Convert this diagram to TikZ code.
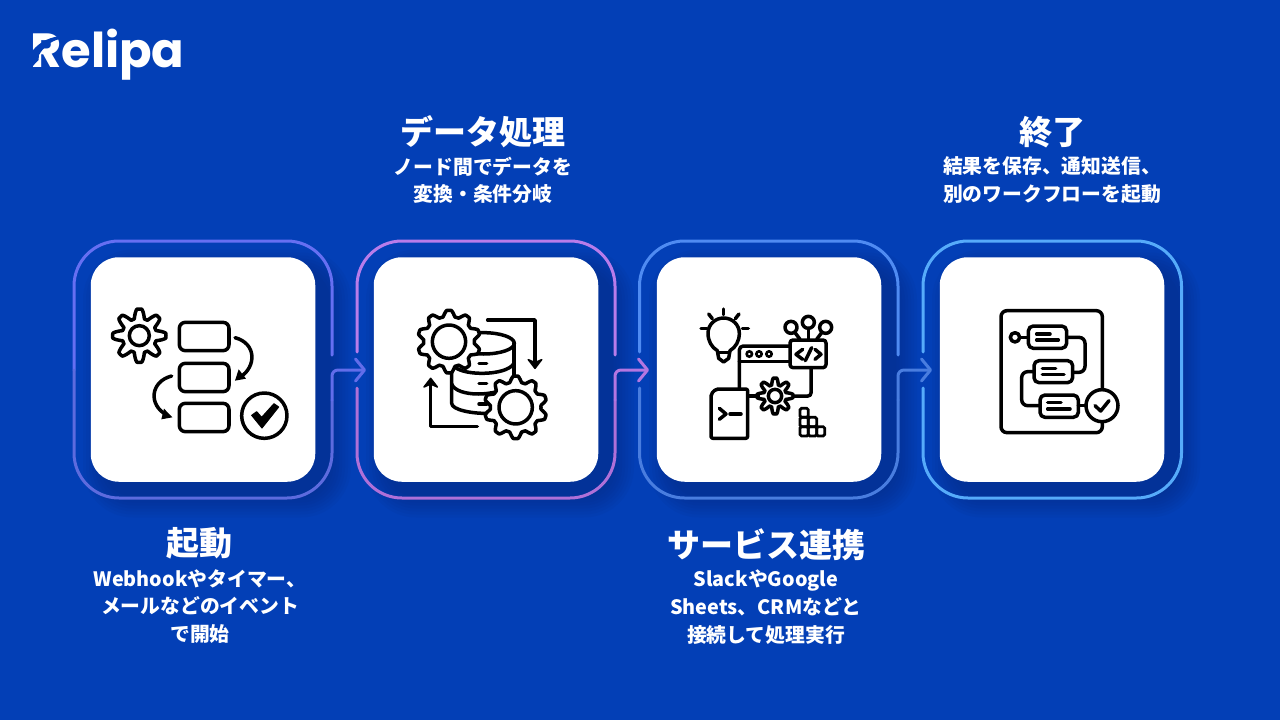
\documentclass[tikz,border=0pt]{standalone}
\usepackage{fontspec}
\setmainfont{Noto Sans CJK JP}
\newfontfamily\logofont{Poppins}
\usetikzlibrary{arrows.meta,calc}
\definecolor{bg}{HTML}{033FB6}
\definecolor{shadowc}{HTML}{03256F}
\definecolor{fa}{HTML}{666FF2}\definecolor{fab}{HTML}{5D6BDE}
\definecolor{fb}{HTML}{B87CEA}\definecolor{fbb}{HTML}{AF70D8}
\definecolor{fc}{HTML}{4F8BF2}\definecolor{fcb}{HTML}{497DDF}
\definecolor{fd}{HTML}{56ABFA}
\tikzset{
  x=1pt,y=-1pt,
  cardbox/.style={fill=white,rounded corners=28pt,minimum width=224.5pt,minimum height=224.5pt,inner sep=0pt,draw=none},
  frameline/.style={line width=3pt,line cap=round,line join=round},
  flowline/.style={frameline,rounded corners=6pt,-{Straight Barb[length=9pt,width=22pt,line width=3pt,round]}},
  ttl/.style={font=\bfseries\fontsize{33}{36}\selectfont,text=white,inner sep=0pt,align=center},
  sub/.style={font=\bfseries\fontsize{19.8}{27.6}\selectfont,text=white,inner sep=0pt,align=center},
  ic/.style={line width=3.5pt,line cap=round,line join=round,draw=black},
  zoomA/.style={shift={(60,230)},x=0.33333pt,y=-0.33333pt},
  zoomB/.style={shift={(350,230)},x=0.33333pt,y=-0.33333pt},
  zoomC/.style={shift={(630,230)},x=0.33333pt,y=-0.33333pt},
  zoomD/.style={shift={(890,230)},x=0.33333pt,y=-0.33333pt},
}
% gear: cx cy base amp teeth hole phase
\newcommand{\gearshape}[7]{%
  \draw[ic,fill=white] plot[smooth,domain=0:360,samples=241,variable=\t]
    ({#1+(#3+#4*max(-1,min(1,1.35*sin(#5*\t+#7))))*cos(\t)},{#2+(#3+#4*max(-1,min(1,1.35*sin(#5*\t+#7))))*sin(\t)}) -- cycle;
  \draw[ic] (#1,#2) circle[radius=#6];
}
% shadow behind a card
\newcommand{\cardshadow}[2]{%
  \foreach \e in {22,19,16,13,10,7,4,1}{
    \fill[shadowc,opacity=0.06,rounded corners={(28+\e)*1pt}]
      ({#1-112+14-\e},{#2-112+14-\e}) rectangle ({#1+112+14+\e},{#2+112+14+\e});
  }
}
% solid arrow head
\newcommand{\headdown}[2]{\fill[black,line join=round,draw=black,line width=1.5pt] (#1-20,#2-26) -- (#1,#2) -- (#1+20,#2-26) -- (#1,#2-17) -- cycle;}
\newcommand{\headup}[2]{\fill[black,line join=round,draw=black,line width=1.5pt] (#1-20,#2+26) -- (#1,#2) -- (#1+20,#2+26) -- (#1,#2+17) -- cycle;}
\begin{document}
\begin{tikzpicture}
\useasboundingbox (0,0) rectangle (1280,720);
\fill[bg] (0,0) rectangle (1280,720);

% logo
\node[anchor=base west,inner sep=0pt,text=white,font=\logofont\bfseries\fontsize{48}{48}\selectfont] (logo) at (30,67.5) {Relipa};
\fill[bg] (30,54) .. controls (37,44) and (46,38) .. (60,36) -- (60,39) .. controls (50,41) and (43,48) .. (39,55) -- (38.5,60) -- (30,69) -- cycle;

% shadows
\cardshadow{203}{369.5}
\cardshadow{486}{369.5}
\cardshadow{769}{369.5}
\cardshadow{1052}{369.5}

% flow tips
\coordinate (tipa) at (366,370);
\coordinate (tipb) at (649,370);
\coordinate (tipc) at (932,370);

% frame 1
\draw[frameline,fa,rounded corners=45pt] (332,355) -- (332,241) -- (74,241) -- (74,370);
\draw[frameline,fab,rounded corners=45pt] (74,370) -- (74,498) -- (332,498) -- (332,400);
\draw[flowline,fa!60!fab] (332,400) -- (332,370) -- (tipa);
% frame 2
\draw[frameline,fb,rounded corners=45pt] (615,355) -- (615,241) -- (357,241) -- (357,352);
\draw[frameline,fbb,rounded corners=45pt] (357,388) -- (357,498) -- (615,498) -- (615,400);
\draw[flowline,fb!50!fbb] (615,400) -- (615,370) -- (tipb);
% frame 3
\draw[frameline,fc,rounded corners=45pt] (898,355) -- (898,241) -- (639.5,241) -- (639.5,352);
\draw[frameline,fcb,rounded corners=45pt] (639.5,388) -- (639.5,498) -- (898,498) -- (898,400);
\draw[flowline,fcb] (898,400) -- (898,370) -- (tipc);
% frame 4
\draw[frameline,fd,rounded corners=45pt] (923,352) -- (923,241) -- (1181.5,241) -- (1181.5,498) -- (923,498) -- (923,388);

% cards
\node[cardbox] (carda) at (203,369.5) {};
\node[cardbox] (cardb) at (486,369.5) {};
\node[cardbox] (cardc) at (769,369.5) {};
\node[cardbox] (cardd) at (1052,369.5) {};

% labels
\node[ttl] (ta) at (199.5,543.5) {起動};
\node[sub,anchor=north] (sa) at (200,569) {Webhookやタイマー、\\メールなどのイベント\\で開始};
\node[ttl] (tb) at (483,132) {データ処理};
\node[sub,anchor=north] (sb) at (483,156.5) {ノード間でデータを\\変換・条件分岐};
\node[ttl] (tc) at (766,544.5) {サービス連携};
\node[sub,anchor=north] (sc) at (766,570) {SlackやGoogle\\Sheets、CRMなどと\\接続して処理実行};
\node[ttl] (td) at (1052,132) {終了};
\node[sub,anchor=north] (sd) at (1052,156.5) {結果を保存、通知送信、\\別のワークフローを起動};

% icon A
\begin{scope}[zoomA]
\gearshape{238}{317}{66}{14}{8}{30}{90}
\foreach \y in {277,400,520}{\draw[ic,rounded corners=6pt] (358,\y) rectangle (507,\y+85);}
\draw[ic] (525,323) .. controls (590,340) and (590,410) .. (540,442);
\fill[black] (525,452) -- (536,418) -- (558,446) -- cycle;
\draw[ic] (335,438) .. controls (270,455) and (265,525) .. (320,555);
\fill[black] (337,562) -- (304,568) -- (312,536) -- cycle;
\draw[ic] (613,557) circle[radius=68];
\fill[black,draw=black,line width=1pt,line join=round] (575,556) -- (590,545) -- (605,562) -- (642,521) -- (656,531) -- (606,594) -- cycle;
\end{scope}

% icon B
\begin{scope}[zoomB]
\draw[ic] (305,340) -- (305,520) .. controls (305,540) and (370,552) .. (420,550);
\draw[ic] (492,340) -- (492,460);
\draw[ic] (400,340) ellipse[x radius=93,y radius=32];
\draw[ic] (305,400) .. controls (320,440) and (470,440) .. (492,400);
\draw[ic] (305,462) .. controls (320,502) and (440,502) .. (492,462);
\draw[ic] (387,400) -- (410,400);
\draw[ic] (387,460) -- (410,460);
\draw[ic] (387,522) -- (410,522);
\gearshape{297}{335}{85}{9}{10}{50}{270}
\gearshape{497}{532}{85}{9}{10}{50}{270}
\draw[ic] (413,270) -- (555,270) -- (555,395);
\headdown{555}{415}
\draw[ic] (382,590) -- (242,590) -- (242,465);
\headup{242}{445}
\end{scope}

% icon C
\begin{scope}[zoomC]
\draw[ic] (262,362) .. controls (245,352) and (234,333) .. (234,310) .. controls (234,284) and (255,264) .. (281,264) .. controls (307,264) and (328,284) .. (328,310) .. controls (328,333) and (317,352) .. (300,362) -- (296,385) -- (281,396) -- (266,385) -- cycle;
\draw[ic] (265,368) -- (297,368);
\draw[ic] (281,237) -- (281,254);
\draw[ic] (236,252) -- (247,266);
\draw[ic] (327,252) -- (316,266);
\draw[ic] (213,296) -- (231,296);
\draw[ic] (337,296) -- (355,296);
\draw[ic,rounded corners=4pt] (480,348) -- (328,348) -- (328,475);
\draw[ic] (328,395) -- (480,395);
\foreach \x in {358,387,417}{\draw[line width=2.6pt] (\x,372) circle[radius=8];}
\draw[ic,rounded corners=3pt] (480,330) rectangle (588,413);
\draw[ic] (518,358) -- (498,373) -- (518,388);
\draw[ic] (526,392) -- (545,353);
\draw[ic] (555,358) -- (573,373) -- (555,388);
\draw[ic] (483,292) circle[radius=18];
\draw[ic] (535,277) circle[radius=18];
\draw[ic] (587,292) circle[radius=18];
\draw[ic] (495,308) -- (510,328);
\draw[ic] (535,295) -- (535,328);
\draw[ic] (575,308) -- (560,328);
\draw[ic,rounded corners=3pt] (543,413) -- (543,498) -- (490,498);
\gearshape{435}{498}{44}{10}{8}{20}{90}
\draw[ic] (385,498) -- (355,498);
\draw[ic,rounded corners=2pt] (243,492) -- (258,477) -- (353,477) -- (353,625) -- (243,625) -- cycle;
\draw[ic] (268,535) -- (288,552) -- (268,568);
\draw[ic] (300,552) -- (333,552);
\foreach \a/\b/\c/\d in {510/535/535/562,510/562/535/590,535/562/560/590,510/590/535/618,535/590/560/618,560/590/584/618}{
  \draw[line width=2.8pt,rounded corners=1.5pt] (\a,\b) rectangle (\c,\d);}
\end{scope}

% icon D
\begin{scope}[zoomD]
\draw[ic,rounded corners=6pt] (637,480) -- (637,242) -- (333,242) -- (333,608) -- (637,608) -- (637,572);
\draw[ic] (375,322) circle[radius=14];
\draw[ic] (390,322) -- (413,322);
\draw[ic,rounded corners=5pt] (415,288) rectangle (530,355);
\draw[ic] (440,312) -- (480,312);
\draw[ic] (440,330) -- (505,330);
\draw[ic,rounded corners=6pt] (530,322) -- (585,322) -- (585,427) -- (550,427);
\draw[ic,rounded corners=5pt] (432,392) rectangle (548,458);
\draw[ic] (457,415) -- (497,415);
\draw[ic] (457,434) -- (522,434);
\draw[ic,rounded corners=6pt] (432,425) -- (395,425) -- (395,527) -- (448,527);
\draw[ic,rounded corners=5pt] (450,495) rectangle (565,562);
\draw[ic] (473,518) -- (513,518);
\draw[ic] (473,537) -- (540,537);
\draw[ic] (565,527) -- (587,527);
\draw[ic,fill=white] (636,527) circle[radius=48];
\draw[ic] (615,527) -- (632,543) -- (657,512);
\end{scope}
\end{tikzpicture}
\end{document}
